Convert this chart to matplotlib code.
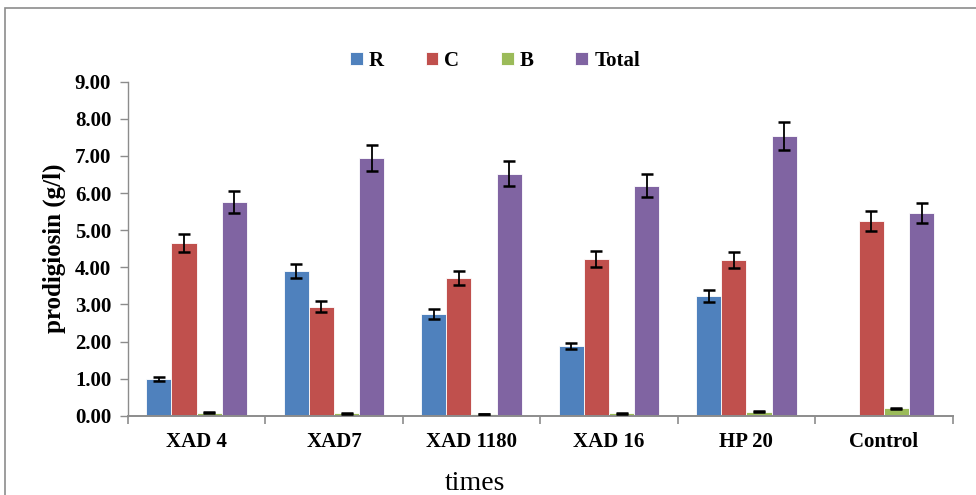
import matplotlib
matplotlib.use("Agg")
import matplotlib.pyplot as plt
import numpy as np
from matplotlib.patches import Rectangle

categories = ["XAD 4", "XAD7", "XAD 1180", "XAD 16", "HP 20", "Control"]
series_names = ["R", "C", "B", "Total"]
R = [1.00, 3.91, 2.74, 1.88, 3.23, 0.0]
C = [4.66, 2.94, 3.72, 4.23, 4.19, 5.24]
B = [0.08, 0.07, 0.05, 0.07, 0.11, 0.20]
Total = [5.76, 6.94, 6.52, 6.20, 7.53, 5.46]
R_err = [0.05, 0.19, 0.14, 0.09, 0.16, 0.0]
C_err = [0.24, 0.15, 0.19, 0.21, 0.21, 0.27]
B_err = [0.01, 0.01, 0.01, 0.01, 0.01, 0.01]
Total_err = [0.29, 0.35, 0.33, 0.31, 0.38, 0.27]
yticks = [0, 1, 2, 3, 4, 5, 6, 7, 8, 9]

colors = ["#4F81BD", "#C0504D", "#9BBB59", "#8064A2"]

plt.rcParams['font.family'] = ['Liberation Serif', 'DejaVu Serif']

fig = plt.figure(figsize=(9.76, 4.95), dpi=100)
ax = fig.add_axes([0.131, 0.160, 0.845, 0.675])

# outer chart border
fig.patches.append(Rectangle((5/976, -0.1), 1.2, 1 - 8/495 + 0.1, transform=fig.transFigure,
                             fill=False, edgecolor="#8c8c8c", linewidth=1.2))

x = np.arange(len(categories))
w = 0.183
data = [R, C, B, Total]
errs = [R_err, C_err, B_err, Total_err]
for i, (vals, e, col, name) in enumerate(zip(data, errs, colors, series_names)):
    pos = x + (i - 1.5) * w
    ax.bar(pos, vals, w, color=col, edgecolor="white", linewidth=0.6, label=name, zorder=2)
    ev = np.array(vals, dtype=float)
    ee = np.array(e, dtype=float)
    mask = ev > 0
    ax.errorbar(pos[mask], ev[mask], yerr=ee[mask], fmt="none", ecolor="black",
                elinewidth=1.3, capsize=4, capthick=1.8, zorder=3)

ax.set_xlim(-0.5, len(categories) - 0.5)
ax.set_ylim(0, 9)
ax.set_yticks(yticks)
ax.set_yticklabels([f"{v:.2f}" for v in yticks], fontsize=15, fontweight="bold")
ax.set_xticks(x)
ax.set_xticklabels(categories, fontsize=15, fontweight="bold")
ax.tick_params(axis="x", which="major", length=0, pad=12)
ax.set_xticks(np.arange(-0.5, len(categories), 1), minor=True)
ax.tick_params(axis="x", which="minor", length=6, color="#8c8c8c", width=1.2)
ax.tick_params(axis="y", length=6, color="#8c8c8c", width=1.0, pad=6)

for s in ["top", "right"]:
    ax.spines[s].set_visible(False)
for s in ["left", "bottom"]:
    ax.spines[s].set_color("#8c8c8c")
ax.spines["bottom"].set_linewidth(1.4)
ax.spines["left"].set_linewidth(1.0)

ax.set_ylabel("prodigiosin (g/l)", fontsize=18, fontweight="bold", labelpad=6)
fig.text(475/976, 1 - 483/495, "times", fontsize=20, ha="center", va="center")

leg = ax.legend(loc="center", bbox_to_anchor=(495/976, 1 - 61/495), bbox_transform=fig.transFigure,
                ncol=4, frameon=False,
                prop={"weight": "bold", "size": 15}, handlelength=0.6, handleheight=0.6,
                columnspacing=2.0, handletextpad=0.3, borderaxespad=0.1)

fig.savefig("out.png", dpi=100)
